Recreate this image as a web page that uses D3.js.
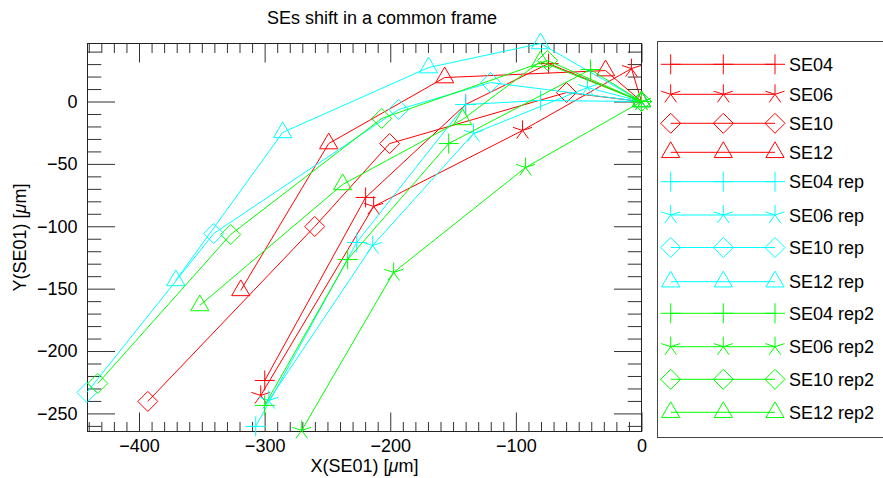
<!DOCTYPE html>
<html><head><meta charset="utf-8">
<script src="https://cdn.jsdelivr.net/npm/d3@7"></script>
<style>
body{margin:0;background:#fff}
svg{display:block}
text{font-family:"Liberation Sans",Arial,Helvetica,sans-serif;fill:#000}
</style>
</head><body>
<svg id="chart" width="883" height="478"></svg>
<script>
// Shift of each SE position, x / y in micrometres, relative to SE01
const SE04      = [[0,0],[-74.0,30.4],[-140.0,-2.4],[-219.6,-76.9],[-299.9,-223.6]];
const SE06      = [[0,0],[-8.0,26.4],[-94.7,-23.2],[-213.2,-84.1],[-303.1,-235.6]];
const SE10      = [[0,0],[-59.7,7.2],[-200.5,-33.7],[-260.1,-100.2],[-393.0,-240.4]];
const SE12      = [[0,0],[-28.6,24.8],[-156.7,19.2],[-249.0,-33.7],[-319.0,-151.4]];
const SE04rep   = [[0,0],[-80.4,0.8],[-140.0,-2.4],[-226.7,-113.0],[-307.1,-260.4]];
const SE06rep   = [[0,0],[-43.0,11.2],[-133.7,-25.6],[-214.0,-115.4],[-296.7,-239.6]];
const SE10rep   = [[0,0],[-120.1,15.2],[-193.3,-6.4],[-340.5,-105.8],[-441.5,-233.2]];
const SE12rep   = [[0,0],[-80.4,46.5],[-169.5,27.2],[-285.6,-24.8],[-370.7,-143.4]];
const SE04rep2  = [[0,0],[-40.6,25.6],[-153.5,-33.7],[-233.9,-126.6],[-300.0,-243.6]];
const SE06rep2  = [[0,0],[-92.3,-52.9],[-197.3,-137.0],[-270.5,-263.6]];
const SE10rep2  = [[0,0],[-74.8,32.9],[-206.8,-13.6],[-327.0,-106.6],[-432.8,-226.0]];
const SE12rep2  = [[0,0],[-80.4,32.1],[-142.4,-14.4],[-237.9,-66.5],[-351.6,-163.5]];

const seriesNames   = ["SE04","SE06","SE10","SE12","SE04 rep","SE06 rep","SE10 rep","SE12 rep",
                       "SE04 rep2","SE06 rep2","SE10 rep2","SE12 rep2"];
const seriesData    = [SE04,SE06,SE10,SE12,SE04rep,SE06rep,SE10rep,SE12rep,SE04rep2,SE06rep2,SE10rep2,SE12rep2];
const seriesColors  = ["#ff0000","#ff0000","#ff0000","#ff0000","#00ffff","#00ffff","#00ffff","#00ffff",
                       "#00ff00","#00ff00","#00ff00","#00ff00"];
const seriesSymbols = ["plus","asterisk","diamond","triangle","plus","asterisk","diamond","triangle",
                       "plus","asterisk","diamond","triangle"];

const xMajorTicks = [-400,-300,-200,-100,0];
const yMajorTicks = [0,-50,-100,-150,-200,-250];
const xDomain = [-441,0];
const yDomain = [-264.5,46.5];

const svg = d3.select("#chart");
const L = 87.5, R = 641.5, T = 43.5, B = 431.5;
const x = d3.scaleLinear().domain(xDomain).range([L,R]);
const y = d3.scaleLinear().domain(yDomain).range([B,T]);

// symbol outlines, centred on the data point
function symbolPath(type, s){
  if(type==="plus") return `M${-s},0H${s}M0,${-s}V${s}`;
  if(type==="diamond") return `M0,${-s}L${s},0L0,${s}L${-s},0Z`;
  if(type==="triangle"){
    const r = s*1.05, h = r*Math.sin(Math.PI/3);
    return `M0,${-r}L${h},${r/2}L${-h},${r/2}Z`;
  }
  // five-armed asterisk
  let p = "";
  [90,18,162,234,306].forEach(a=>{
    const t = a*Math.PI/180;
    p += `M0,0L${(s*Math.cos(t)).toFixed(2)},${(-s*Math.sin(t)).toFixed(2)}`;
  });
  return p;
}

// frame and inward ticks on all four sides
const minorX = d3.range(-440,1,10).filter(v=>v%100!==0);
const minorY = d3.range(-260,41,10).filter(v=>v%50!==0);
const tickLenX = 19, tickLenY = 27.5;

const axG = svg.append("g");
function styleAxis(g){ g.select(".domain").remove(); g.selectAll("line").attr("stroke","#333"); }
function styleLabels(g){ g.selectAll("text").attr("font-size",18).attr("fill","#000")
  .attr("font-family","Liberation Sans, Arial, sans-serif"); }

axG.append("g").attr("transform",`translate(0,${B})`)
  .call(d3.axisBottom(x).tickValues(xMajorTicks).tickSize(-tickLenX).tickPadding(8).tickFormat(d3.format("d")))
  .call(styleAxis).call(styleLabels);
axG.append("g").attr("transform",`translate(0,${B})`)
  .call(d3.axisBottom(x).tickValues(minorX).tickSize(-tickLenX/2).tickFormat(""))
  .call(styleAxis);
axG.append("g").attr("transform",`translate(0,${T})`)
  .call(d3.axisTop(x).tickValues(xMajorTicks).tickSize(-tickLenX).tickFormat(""))
  .call(styleAxis);
axG.append("g").attr("transform",`translate(0,${T})`)
  .call(d3.axisTop(x).tickValues(minorX).tickSize(-tickLenX/2).tickFormat(""))
  .call(styleAxis);
axG.append("g").attr("transform",`translate(${L},0)`)
  .call(d3.axisLeft(y).tickValues(yMajorTicks).tickSize(-tickLenY).tickPadding(10).tickFormat(d3.format("d")))
  .call(styleAxis).call(styleLabels);
axG.append("g").attr("transform",`translate(${L},0)`)
  .call(d3.axisLeft(y).tickValues(minorY).tickSize(-tickLenY/2).tickFormat(""))
  .call(styleAxis);
axG.append("g").attr("transform",`translate(${R},0)`)
  .call(d3.axisRight(y).tickValues(yMajorTicks).tickSize(-tickLenY).tickFormat(""))
  .call(styleAxis);
axG.append("g").attr("transform",`translate(${R},0)`)
  .call(d3.axisRight(y).tickValues(minorY).tickSize(-tickLenY/2).tickFormat(""))
  .call(styleAxis);

svg.append("rect").attr("x",L).attr("y",T).attr("width",R-L).attr("height",B-T)
  .attr("fill","none").attr("stroke","#222").attr("stroke-width",1);

// series: connecting lines, then symbols
const line = d3.line().x(d=>x(d[0])).y(d=>y(d[1]));
const plotG = svg.append("g");
seriesData.forEach((data,i)=>{
  const g = plotG.append("g").attr("stroke",seriesColors[i]).attr("fill","none").attr("stroke-width",1);
  g.append("path").attr("d",line(data));
  g.selectAll("path.sym").data(data).join("path").attr("class","sym")
    .attr("transform",d=>`translate(${x(d[0])},${y(d[1])})`)
    .attr("d",symbolPath(seriesSymbols[i],10));
});

// titles
svg.append("text").attr("x",382).attr("y",24).attr("text-anchor","middle").attr("font-size",18)
  .text("SEs shift in a common frame");
const xt = svg.append("text").attr("x",(L+R)/2).attr("y",472).attr("text-anchor","middle").attr("font-size",18);
xt.append("tspan").text("X(SE01) [");
xt.append("tspan").attr("font-style","italic").text("μ");
xt.append("tspan").text("m]");
const yt = svg.append("text").attr("transform",`translate(26,${(T+B)/2}) rotate(-90)`)
  .attr("text-anchor","middle").attr("font-size",18);
yt.append("tspan").text("Y(SE01) [");
yt.append("tspan").attr("font-style","italic").text("μ");
yt.append("tspan").text("m]");

// legend
const legRows = [64.3,94.3,123.3,152.3,181.7,215,247.5,281.7,313.3,346.7,379.3,412.3];
const leg = svg.append("g");
leg.append("rect").attr("x",657.5).attr("y",41.5).attr("width",240).attr("height",396)
  .attr("fill","#fff").attr("stroke","#444");
const legX = [670.7,723.3,775];
seriesNames.forEach((name,i)=>{
  const ly = legRows[i];
  const g = leg.append("g").attr("stroke",seriesColors[i]).attr("fill","none");
  g.append("line").attr("x1",legX[0]).attr("x2",legX[2]).attr("y1",ly).attr("y2",ly);
  legX.forEach(lx=>g.append("path").attr("transform",`translate(${lx},${ly})`)
    .attr("d",symbolPath(seriesSymbols[i],10)));
  leg.append("text").attr("x",789).attr("y",ly+6.5).attr("font-size",18).text(name);
});
</script>
</body></html>
